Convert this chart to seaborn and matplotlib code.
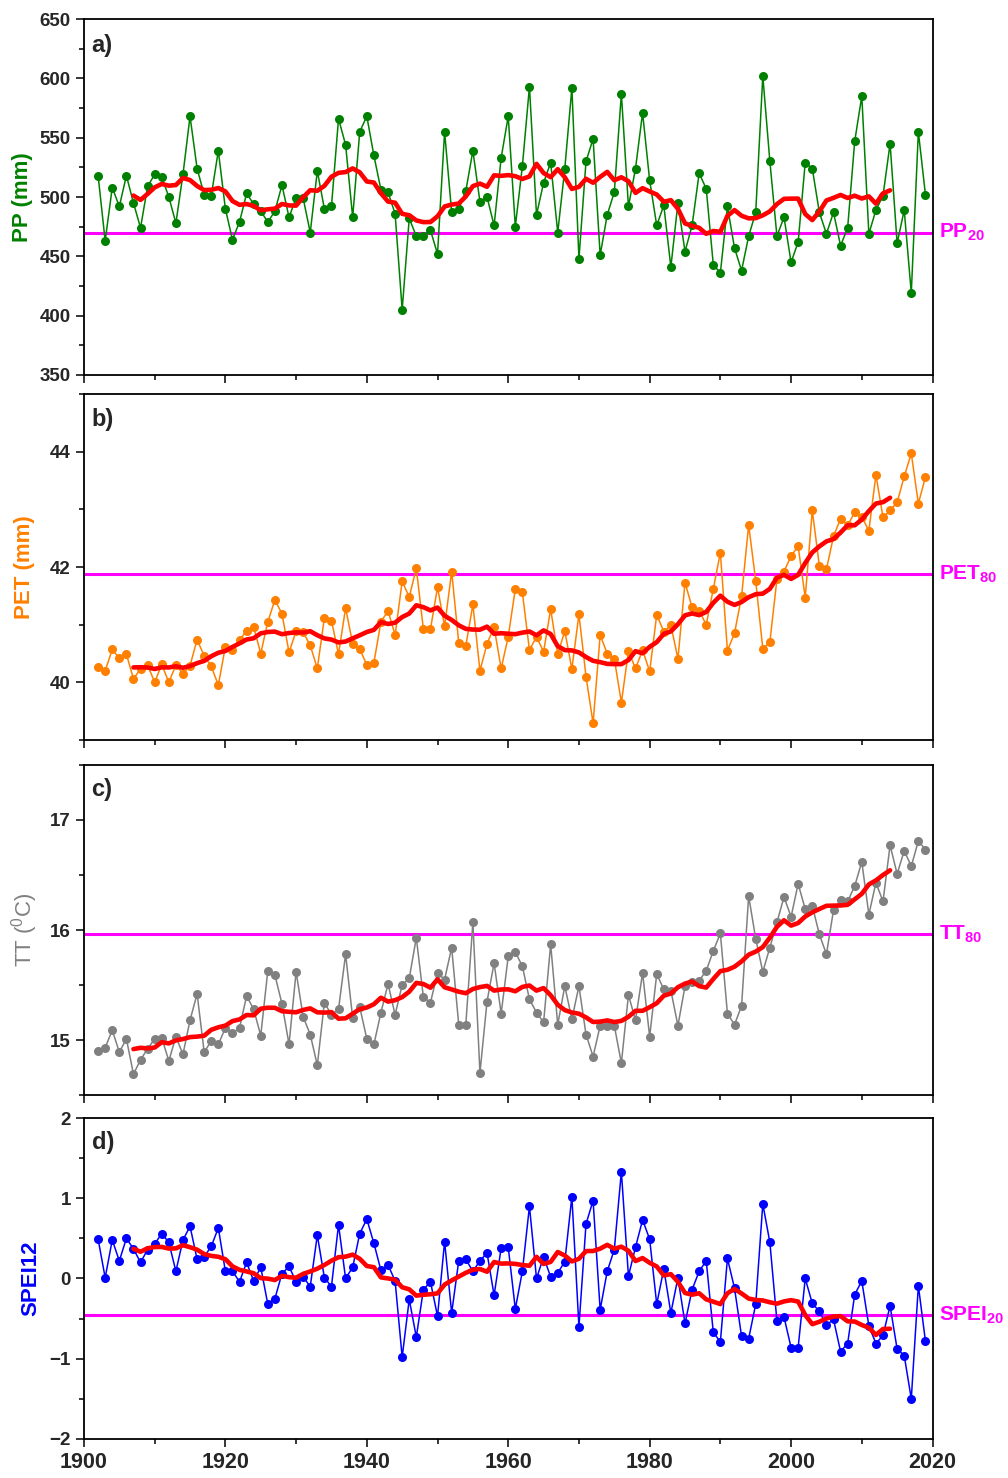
import numpy as np
import pandas as pd
import seaborn as sns
import matplotlib
matplotlib.use("Agg")
import matplotlib.pyplot as plt
from matplotlib.ticker import MultipleLocator

# yearly series 1902-2019
years = list(range(1902, 2020))

pp = [518, 463, 508, 492, 518, 495, 474, 509, 519, 517,
      500, 478, 519, 568, 524, 502, 501, 539, 490, 464,
      479, 503, 494, 488, 479, 488, 510, 483, 499, 499,
      470, 522, 490, 492, 566, 544, 483, 555, 568, 535,
      506, 504, 486, 405, 482, 467, 467, 472, 452, 555,
      487, 490, 505, 539, 496, 500, 476, 533, 568, 475,
      526, 593, 485, 512, 529, 470, 524, 592, 448, 530,
      549, 451, 485, 504, 587, 492, 524, 571, 514, 476,
      493, 441, 495, 454, 476, 520, 507, 443, 436, 492,
      457, 438, 467, 487, 602, 530, 467, 483, 445, 462,
      529, 524, 487, 469, 487, 459, 474, 547, 585, 469,
      489, 501, 545, 461, 489, 419, 555, 502]

pet = [40.27, 40.20, 40.57, 40.42, 40.49, 40.06, 40.23, 40.30, 40.00, 40.31,
       40.00, 40.30, 40.15, 40.29, 40.74, 40.46, 40.28, 39.95, 40.62, 40.56,
       40.74, 40.89, 40.96, 40.50, 41.05, 41.43, 41.19, 40.52, 40.89, 40.87,
       40.64, 40.24, 41.12, 41.07, 40.49, 41.29, 40.67, 40.58, 40.30, 40.34,
       41.05, 41.24, 40.82, 41.75, 41.48, 41.98, 40.92, 40.92, 41.65, 40.97,
       41.92, 40.69, 40.63, 41.35, 40.20, 40.67, 40.96, 40.24, 40.79, 41.62,
       41.56, 40.56, 40.79, 40.53, 41.27, 40.49, 40.89, 40.23, 41.18, 40.10,
       39.29, 40.82, 40.50, 40.41, 39.65, 40.54, 40.24, 40.56, 40.19, 41.17,
       40.88, 40.99, 40.41, 41.73, 41.30, 41.24, 41.00, 41.62, 42.25, 40.55,
       40.85, 41.49, 42.73, 41.76, 40.58, 40.70, 41.79, 41.92, 42.19, 42.36,
       41.47, 42.98, 42.02, 41.96, 42.53, 42.84, 42.72, 42.95, 42.87, 42.63,
       43.60, 42.86, 42.98, 43.12, 43.57, 43.97, 43.10, 43.56]

tt = [14.90, 14.93, 15.09, 14.89, 15.01, 14.69, 14.82, 14.92, 15.01, 15.02,
      14.81, 15.03, 14.87, 15.18, 15.42, 14.89, 14.99, 14.96, 15.11, 15.06,
      15.11, 15.40, 15.28, 15.04, 15.63, 15.59, 15.33, 14.96, 15.62, 15.21,
      15.05, 14.77, 15.34, 15.23, 15.28, 15.78, 15.20, 15.30, 15.01, 14.96,
      15.25, 15.51, 15.23, 15.50, 15.56, 15.93, 15.39, 15.34, 15.61, 15.55,
      15.84, 15.14, 15.14, 16.07, 14.70, 15.35, 15.70, 15.24, 15.76, 15.80,
      15.67, 15.37, 15.25, 15.16, 15.87, 15.14, 15.49, 15.19, 15.49, 15.05,
      14.85, 15.13, 15.13, 15.13, 14.79, 15.41, 15.18, 15.61, 15.03, 15.60,
      15.46, 15.45, 15.13, 15.49, 15.53, 15.54, 15.63, 15.81, 15.97, 15.24,
      15.14, 15.31, 16.31, 15.92, 15.62, 15.84, 16.07, 16.30, 16.12, 16.42,
      16.19, 16.22, 15.96, 15.78, 16.18, 16.27, 16.26, 16.40, 16.62, 16.14,
      16.43, 16.26, 16.77, 16.51, 16.72, 16.58, 16.81, 16.73]

spei = [0.49, 0.01, 0.48, 0.22, 0.50, 0.37, 0.20, 0.36, 0.43, 0.56,
        0.45, 0.09, 0.48, 0.65, 0.24, 0.27, 0.40, 0.63, 0.09, 0.09,
        -0.04, 0.20, -0.03, 0.14, -0.32, -0.25, 0.06, 0.15, -0.04, 0.02,
        -0.10, 0.54, 0.01, -0.10, 0.67, 0.00, 0.14, 0.56, 0.74, 0.44,
        0.10, 0.17, -0.03, -0.98, -0.26, -0.73, -0.14, -0.04, -0.47, 0.46,
        -0.43, 0.22, 0.24, 0.09, 0.22, 0.32, -0.21, 0.38, 0.39, -0.38,
        0.09, 0.90, 0.00, 0.27, 0.02, 0.07, 0.21, 1.02, -0.60, 0.68,
        0.97, -0.39, 0.09, 0.36, 1.33, 0.03, 0.39, 0.73, 0.49, -0.32,
        0.12, -0.43, 0.01, -0.56, -0.14, 0.09, 0.22, -0.67, -0.79, 0.25,
        -0.12, -0.72, -0.75, -0.32, 0.93, 0.45, -0.53, -0.48, -0.86, -0.86,
        0.00, -0.31, -0.41, -0.58, -0.51, -0.91, -0.81, -0.20, -0.03, -0.59,
        -0.81, -0.71, -0.34, -0.88, -0.96, -1.50, -0.09, -0.78]

# reference levels
ref_values = [470, 41.88, 15.96, -0.46]
ref_labels = ["PP$_{20}$", "PET$_{80}$", "TT$_{80}$", "SPEI$_{20}$"]

sns.set_style("ticks")
plt.rcParams['font.family'] = ['Liberation Sans', 'DejaVu Sans']
plt.rcParams['mathtext.default'] = 'regular'

MAGENTA = "#ff00ff"

fig = plt.figure(figsize=(10.08, 14.78), dpi=100)
left, width = 0.0833, 0.8418
# [bottom, height] of each panel in figure fraction
boxes = [(0.74628, 0.24086), (0.49932, 0.23410), (0.25913, 0.22328), (0.02639, 0.21718)]

panels = [
    dict(vals=pp, color="#008000", ylabel="PP (mm)", lw="bold", ylim=(350, 650), major=50, minor=25, letter="a)", labx=-0.060),
    dict(vals=pet, color="#ff8000", ylabel="PET (mm)", lw="bold", ylim=(39, 45), major=2, minor=1, letter="b)", labx=-0.058),
    dict(vals=tt, color="#808080", ylabel="TT ($^{0}$C)", lw="normal", ylim=(14.5, 17.5), major=1, minor=0.5, letter="c)", labx=-0.052),
    dict(vals=spei, color="#0000ff", ylabel="SPEI12", lw="bold", ylim=(-2, 2), major=1, minor=0.5, letter="d)", labx=-0.050),
]

for i, p in enumerate(panels):
    ax = fig.add_axes([left, boxes[i][0], width, boxes[i][1]])
    df = pd.DataFrame({"year": years, "value": p["vals"]})
    # 11-year centred running mean
    df["smooth"] = df["value"].rolling(11, center=True).mean()

    ax.axhline(ref_values[i], color=MAGENTA, lw=2.2, zorder=2)
    sns.lineplot(data=df, x="year", y="value", ax=ax, color=p["color"], marker="o",
                 markersize=6.5, markeredgecolor=p["color"], markeredgewidth=0,
                 linewidth=1.1, zorder=3)
    sns.lineplot(data=df.dropna(), x="year", y="smooth", ax=ax, color="#ff0000",
                 linewidth=3.3, zorder=4)

    ax.set_xlim(1900, 2020)
    ax.set_ylim(*p["ylim"])
    ax.xaxis.set_major_locator(MultipleLocator(20))
    ax.xaxis.set_minor_locator(MultipleLocator(10))
    ax.yaxis.set_major_locator(MultipleLocator(p["major"]))
    ax.yaxis.set_minor_locator(MultipleLocator(p["minor"]))
    ax.tick_params(which="both", direction="out", top=False, right=False, width=1.3)
    ax.tick_params(which="major", length=6)
    ax.tick_params(which="minor", length=3.5)
    ax.tick_params(axis="y", labelsize=13.5)
    ax.tick_params(axis="x", labelsize=15.5, labelbottom=(i == 3))
    for lab in ax.get_yticklabels() + ax.get_xticklabels():
        lab.set_fontweight("bold")
    for s in ax.spines.values():
        s.set_linewidth(1.3)
        s.set_color("black")

    ax.set_xlabel("")
    ax.set_ylabel(p["ylabel"], color=p["color"], fontsize=16, fontweight=p["lw"])
    ax.yaxis.set_label_coords(p["labx"], 0.5)

    ax.text(0.009, 0.925, p["letter"], transform=ax.transAxes, fontsize=17,
            fontweight="bold", va="center", ha="left")
    ax.text(1.008, ref_values[i], ref_labels[i], transform=ax.get_yaxis_transform(),
            color=MAGENTA, fontsize=15, fontweight="bold", va="center", ha="left")

fig.savefig("out.png", dpi=100)
